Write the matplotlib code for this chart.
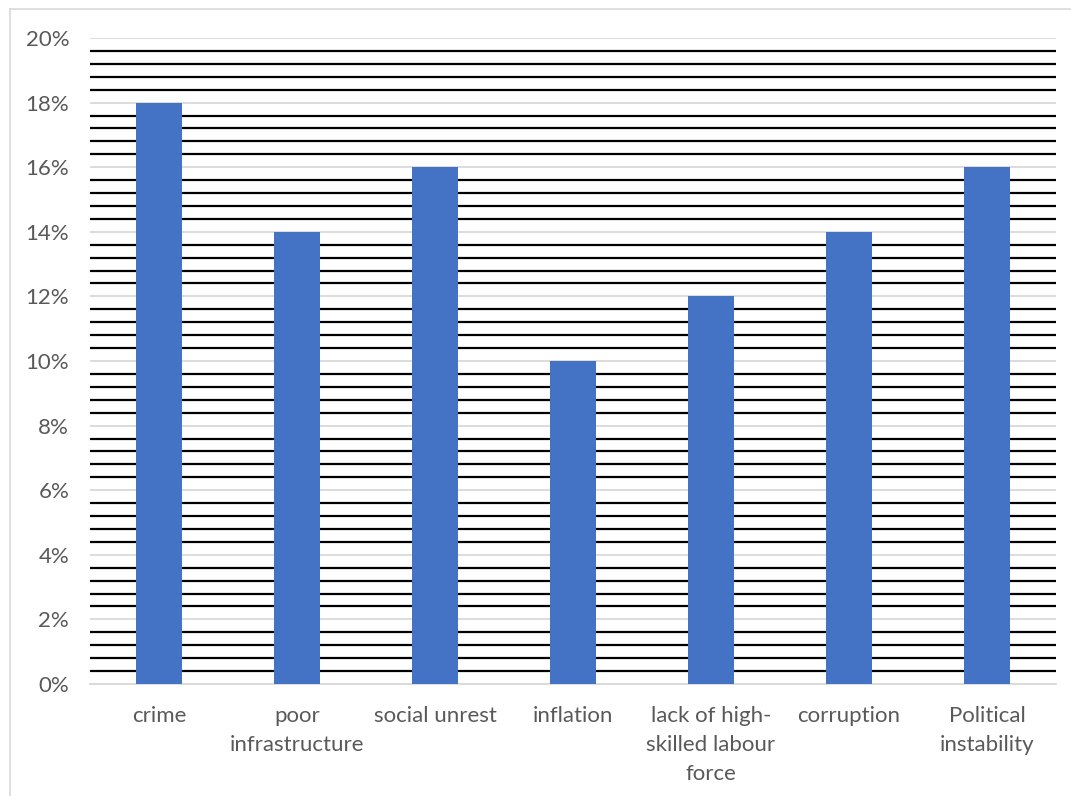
import numpy as np
from matplotlib import pyplot as plt
from matplotlib.ticker import MultipleLocator, FuncFormatter
from matplotlib.lines import Line2D

categories = ['crime', 'poor\ninfrastructure', 'social unrest', 'inflation',
              'lack of high-\nskilled labour\nforce', 'corruption', 'Political\ninstability']
values = [18, 14, 16, 10, 12, 14, 16]

plt.rcParams['font.family'] = ['Lato', 'DejaVu Sans']

fig = plt.figure(figsize=(10.71, 7.96), dpi=100)
ax = fig.add_axes([90/1071, 1-684/796, 966/1071, (684-38)/796])

x = np.arange(len(categories))
ax.bar(x, values, width=0.33, color='#4472C4', zorder=3)

ax.set_xlim(-0.5, len(categories) - 0.5)
ax.set_ylim(0, 20)
ax.yaxis.set_major_locator(MultipleLocator(2))
ax.yaxis.set_minor_locator(MultipleLocator(0.4))
ax.yaxis.set_major_formatter(FuncFormatter(lambda v, p: '%d%%' % round(v)))
ax.grid(axis='y', which='major', color='#D9D9D9', linewidth=1.3, zorder=1)
ax.grid(axis='y', which='minor', color='black', linewidth=1.6, zorder=1)

ax.set_xticks(x)
ax.set_xticklabels(categories, fontsize=16, color='#595959', linespacing=1.55)
ax.tick_params(axis='y', labelsize=16, labelcolor='#595959', length=0, which='both', pad=15)
ax.tick_params(axis='x', length=0, pad=16)

for s in ['top', 'right', 'left']:
    ax.spines[s].set_visible(False)
ax.spines['bottom'].set_color('#D9D9D9')
ax.spines['bottom'].set_linewidth(1.3)

# outer chart border (top and left visible)
fig.add_artist(Line2D([10/1071, 1], [1-9/796, 1-9/796], transform=fig.transFigure, color='#D9D9D9', lw=1.2))
fig.add_artist(Line2D([10/1071, 10/1071], [0, 1-9/796], transform=fig.transFigure, color='#D9D9D9', lw=1.2))

fig.savefig('out.png', dpi=100)
